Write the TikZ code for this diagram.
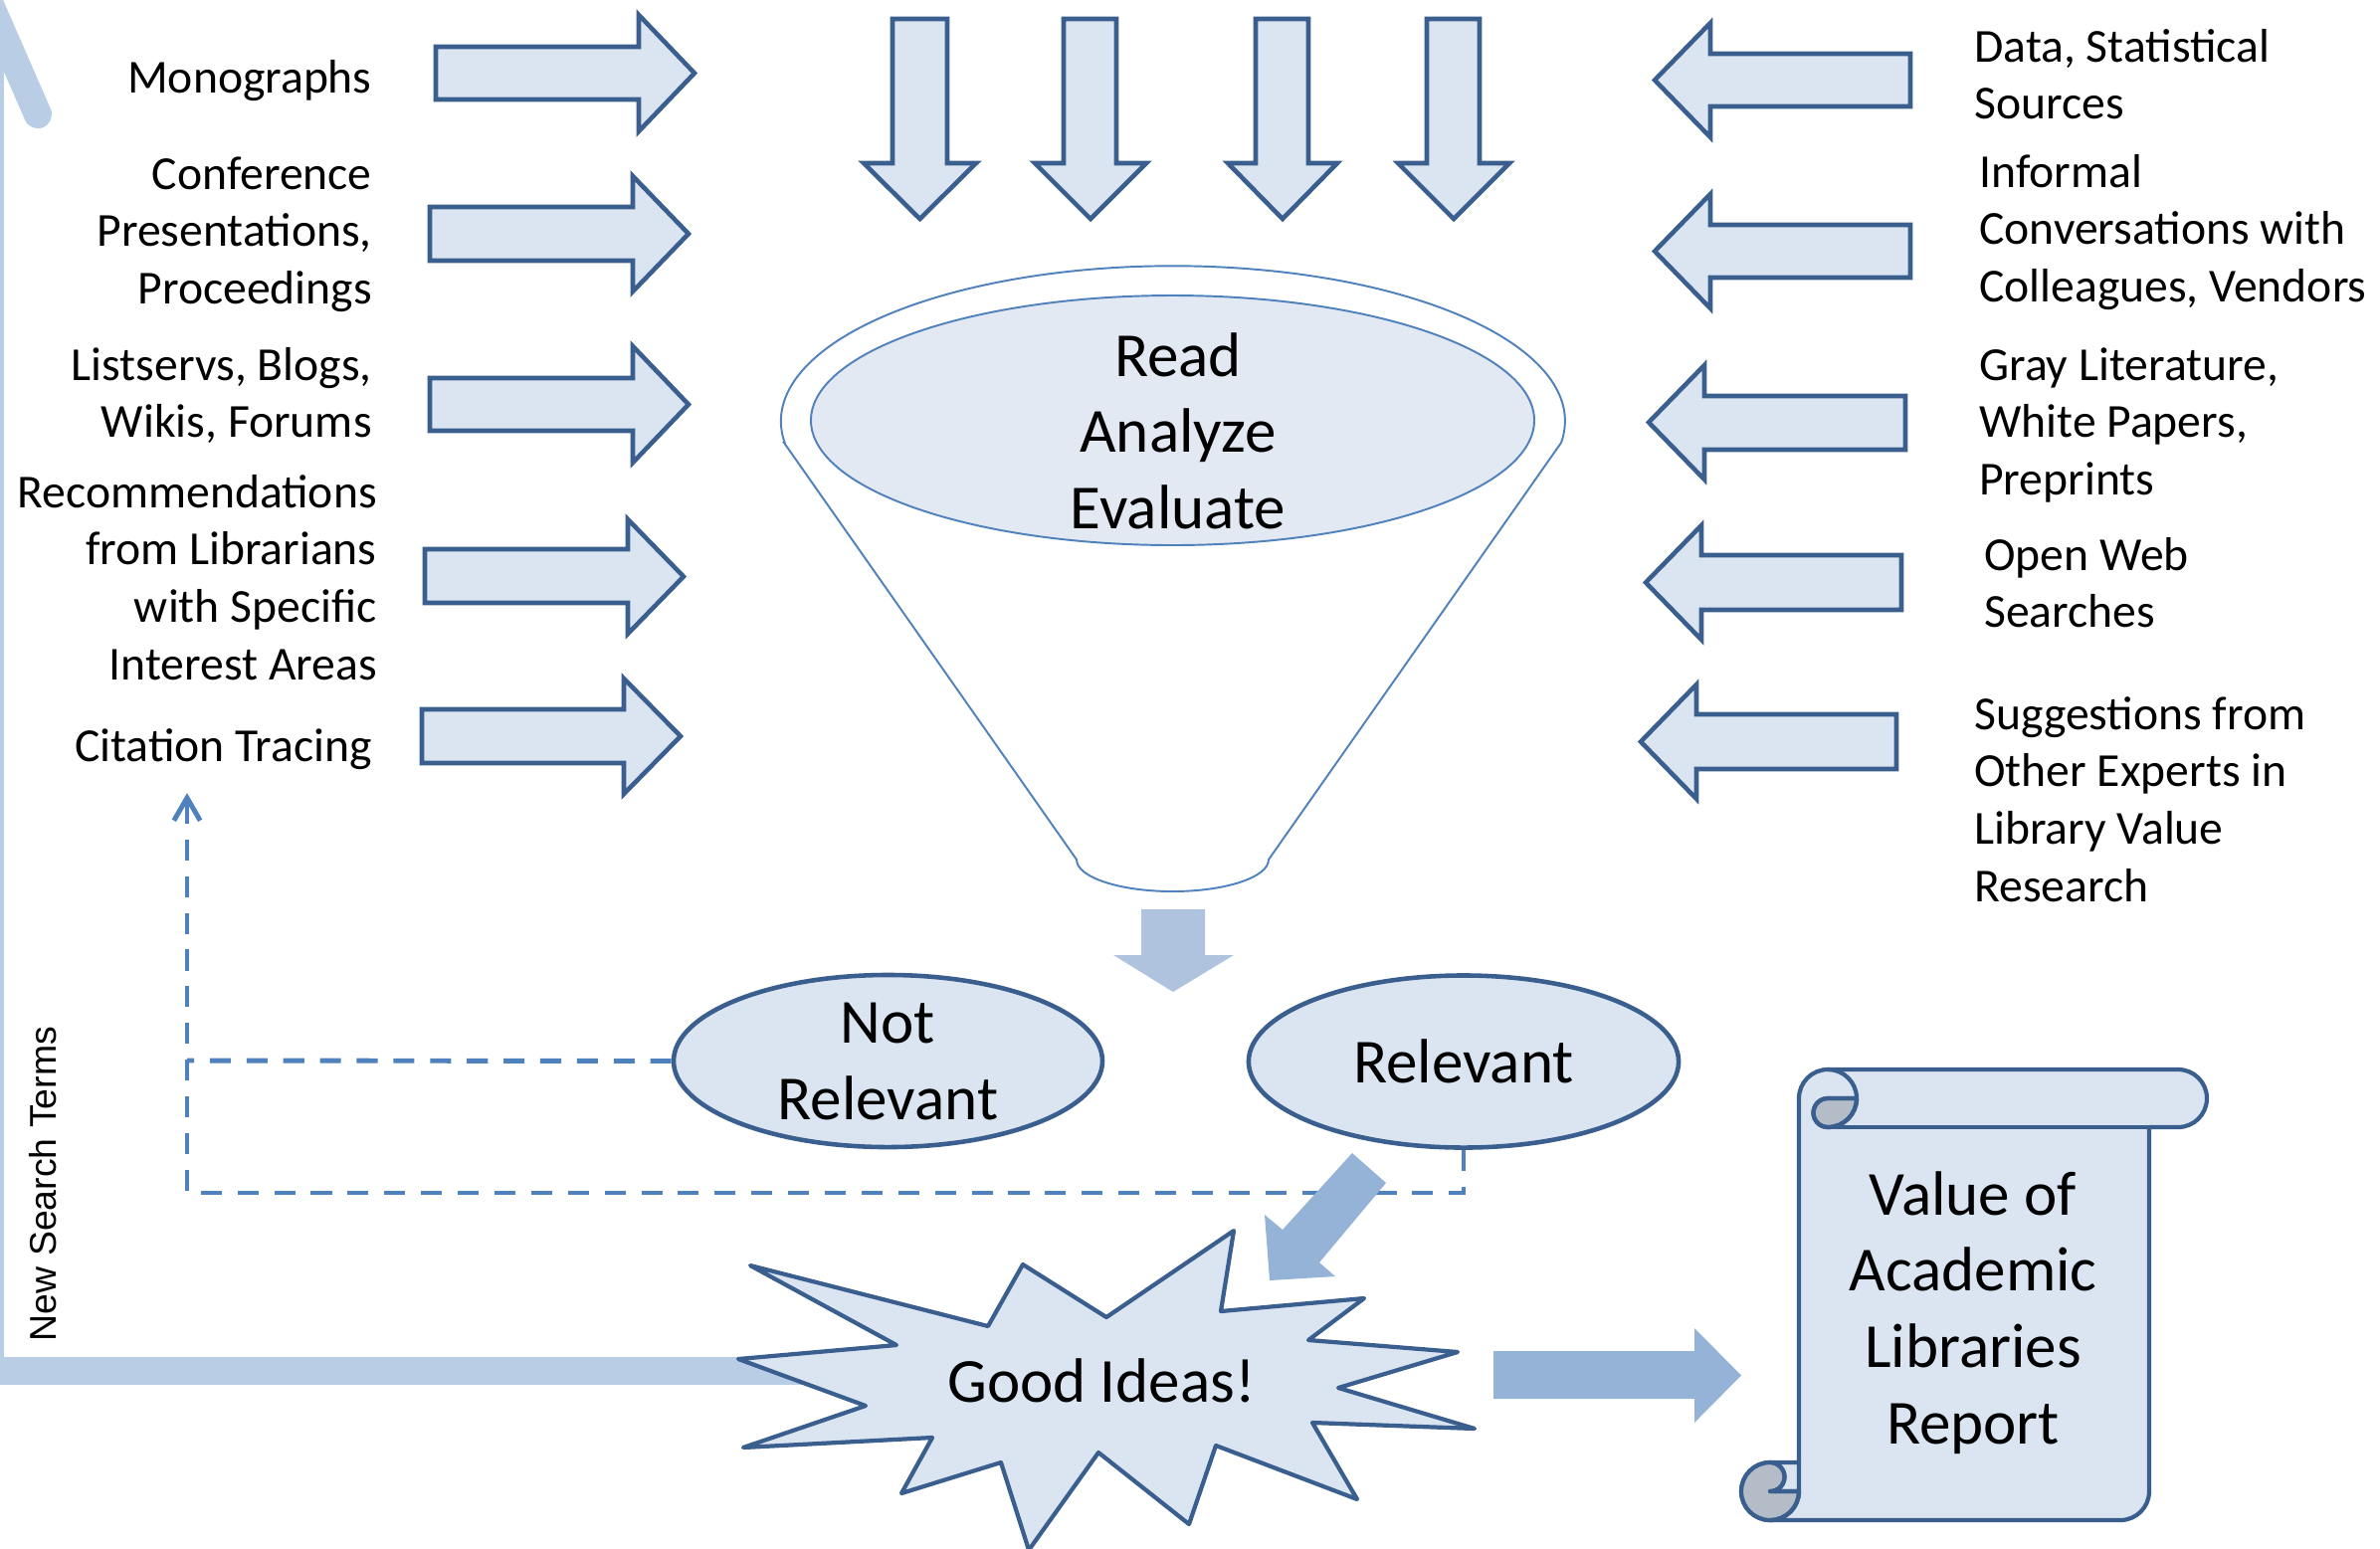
\documentclass[tikz,border=0pt]{standalone}
\usepackage{fontspec}
\setmainfont{Carlito}
\newfontfamily\nstfont{Liberation Sans}
\usetikzlibrary{arrows.meta,shapes.geometric}
\definecolor{blkfill}{HTML}{DBE5F1}
\definecolor{blkline}{HTML}{3A5F8E}
\definecolor{acc}{HTML}{4F81BD}
\definecolor{funfill}{HTML}{E3E9F3}
\definecolor{loopc}{HTML}{B9CDE5}
\definecolor{midarrow}{HTML}{B0C3DE}
\definecolor{strongarrow}{HTML}{95B3D7}
\definecolor{curlc}{HTML}{B3BCC7}
\newcommand{\txR}[1]{\begin{tabular}[t]{@{}r@{}}#1\end{tabular}}
\newcommand{\txL}[1]{\begin{tabular}[t]{@{}l@{}}#1\end{tabular}}
\newcommand{\txC}[1]{\begin{tabular}[t]{@{}c@{}}#1\end{tabular}}
\newcommand{\blockH}[7]{\path[blockarrow] (#1,#4) -- (#2,#4) -- (#2,#6) -- (#3,{(#6+#7)/2}) -- (#2,#7) -- (#2,#5) -- (#1,#5) -- cycle;}
\newcommand{\blockV}[7]{\path[blockarrow] (#4,#1) -- (#4,#2) -- (#6,#2) -- ({(#6+#7)/2},#3) -- (#7,#2) -- (#5,#2) -- (#5,#1) -- cycle;}
\begin{document}
\begin{tikzpicture}[x=0.02cm,y=-0.02cm,
  blockarrow/.style={draw=blkline, fill=blkfill, line width=2.6pt, line join=miter},
  srctext/.style={font=\fontsize{27.1}{33}\selectfont, inner sep=0pt},
  bigtext/.style={font=\fontsize{35.9}{43.8}\selectfont, inner sep=0pt},
  ovalnode/.style={ellipse, draw=blkline, fill=blkfill, line width=2.6pt, inner sep=0pt, align=center, font=\fontsize{35.9}{43.8}\selectfont},
  dashconn/.style={draw=acc, line width=2.8pt, dash pattern=on 12pt off 9pt},
  funline/.style={draw=acc, line width=1.1pt},
  scrollpart/.style={draw=blkline, line width=2.4pt, line join=round},
  starpart/.style={draw=blkline, fill=blkfill, line width=2.4pt, line join=round}
]
\useasboundingbox (0,0) rectangle (2392,1556);

% ---- new search terms loop
\coordinate (loopstart) at (900,1378);
\coordinate (loopcorner) at (-10,1378);
\coordinate (looptip) at (-10,5);
\coordinate (looparm) at (38,115);
\draw[loopc, line width=16pt] (loopstart) -- (loopcorner) -- (looptip);
\draw[loopc, line width=16pt, line cap=round] (looptip) -- (looparm);
\node[rotate=90, anchor=base, inner sep=0pt, font=\nstfont\fontsize{21.3}{25}\selectfont] (nst) at (56,1190) {New Search Terms};

% ---- left source arrows
\blockH{438}{642}{698}{47}{100}{15}{132}
\blockH{432}{636}{692}{208}{262}{177}{293}
\blockH{432}{636}{692}{380}{433}{348}{465}
\blockH{427}{631}{687}{552}{606}{522}{637}
\blockH{424}{627}{684}{713}{767}{682}{798}
% ---- right source arrows
\blockH{1920}{1719}{1663}{54}{107}{23}{138}
\blockH{1920}{1719}{1663}{226}{279}{195}{310}
\blockH{1915}{1713}{1657}{398}{452}{367}{482}
\blockH{1911}{1710}{1654}{558}{613}{528}{643}
\blockH{1906}{1705}{1649}{718}{773}{688}{803}
% ---- top arrows
\blockV{19}{164}{220}{897}{952}{868}{981}
\blockV{19}{164}{220}{1069}{1122}{1040}{1152}
\blockV{19}{164}{220}{1262}{1315}{1234}{1344}
\blockV{19}{164}{220}{1434}{1487}{1405}{1517}

% ---- left texts
\node[srctext, anchor=base east] (t1) at (374,93) {\txR{Monographs}};
\node[srctext, anchor=base east] (t2) at (374,190) {\txR{Conference\\Presentations,\\Proceedings}};
\node[srctext, anchor=base east] (t3) at (374,382) {\txR{Listservs, Blogs,\\Wikis, Forums}};
\node[srctext, anchor=base east] (t4) at (379,510) {\txR{Recommendations\\from Librarians\\with Specific\\Interest Areas}};
\node[srctext, anchor=base east] (t5) at (374,765) {\txR{Citation Tracing}};
% ---- right texts
\node[srctext, anchor=base west] (r1) at (1984,62) {\txL{Data, Statistical\\Sources}};
\node[srctext, anchor=base west] (r2) at (1989,188) {\txL{Informal\\Conversations with\\Colleagues, Vendors}};
\node[srctext, anchor=base west] (r3) at (1989,382) {\txL{Gray Literature,\\White Papers,\\Preprints}};
\node[srctext, anchor=base west] (r4) at (1994,573) {\txL{Open Web\\Searches}};
\node[srctext, anchor=base west] (r5) at (1984,733) {\txL{Suggestions from\\Other Experts in\\Library Value\\Research}};

% ---- funnel
\draw[funline] (788,445) -- (1082,864) arc[start angle=180, end angle=0, x radius=96.5, y radius=32] -- (1569,445) arc[start angle=8, end angle=-188, x radius=394, y radius=156] -- cycle;
\filldraw[funline, fill=funfill] (1178.5,422.5) ellipse[x radius=363.5, y radius=125.5];
\node[bigtext, anchor=base] (funtext) at (1184,378) {\txC{Read\\Analyze\\Evaluate}};

% ---- arrow below funnel
\fill[midarrow] (1147,914) -- (1211,914) -- (1211,960) -- (1240,960) -- (1179,997) -- (1119,960) -- (1147,960) -- cycle;

% ---- relevance ovals
\node[ovalnode, minimum width=245.3pt, minimum height=98.5pt] (nr) at (892.5,1066.5) {Not\\Relevant};
\node[ovalnode, minimum width=246pt, minimum height=98.5pt] (rel) at (1471,1067) {Relevant};

% ---- dashed feedback
\coordinate (dl) at (188,1066);
\coordinate (db) at (188,1199);
\coordinate (dtop) at (188,797);
\draw[dashconn] (nr.west) -- (dl);
\draw[dashconn, -{Straight Barb[length=13pt,width=15pt]}] (rel.south) -- (rel.south |- db) -- (db) -- (dtop);

% ---- good ideas star
\path[starpart] (754,1272) -- (901,1352) -- (742,1366) -- (870,1413) -- (747,1455) -- (937,1445) -- (906,1501) -- (1006,1470) -- (1034,1558) -- (1104,1460) -- (1195,1532) -- (1222,1453) -- (1364,1507) -- (1319,1430) -- (1482,1436) -- (1345,1395) -- (1465,1359) -- (1315,1347) -- (1371,1305) -- (1227,1318) -- (1240,1237) -- (1112,1324) -- (1028,1271) -- (993,1333) -- cycle;
\node[bigtext, anchor=base] (good) at (1107,1409) {Good Ideas!};

% ---- relevant -> good ideas arrow
\fill[strongarrow] (1359,1159) -- (1393,1189) -- (1326,1269) -- (1342,1283) -- (1276,1287) -- (1271,1221) -- (1289,1236) -- cycle;

% ---- good ideas -> report arrow
\fill[strongarrow] (1501,1358) -- (1703,1358) -- (1703,1335) -- (1750,1382.5) -- (1703,1430) -- (1703,1406) -- (1501,1406) -- cycle;

% ---- scroll
\filldraw[scrollpart, fill=blkfill] (1808,1470) -- (1808,1104) arc[start angle=180, delta angle=90, radius=29] -- (2189,1075) arc[start angle=270, delta angle=180, radius=29] -- (2160,1133) -- (2160,1499) arc[start angle=0, delta angle=90, radius=29] -- (1779,1528) arc[start angle=90, delta angle=180, radius=29] -- cycle;
\filldraw[scrollpart, fill=curlc] (1866,1104) arc[start angle=0, delta angle=90, radius=29] arc[start angle=90, delta angle=180, radius=14.5] -- cycle;
\filldraw[scrollpart, fill=curlc] (1808,1499) arc[start angle=0, delta angle=270, radius=29] arc[start angle=270, delta angle=180, radius=14.5] -- cycle;
\draw[scrollpart] (1837,1075) arc[start angle=270, delta angle=180, radius=29] arc[start angle=90, delta angle=180, radius=14.5] -- (1866,1104);
\draw[scrollpart] (2160,1133) -- (1837,1133);
\draw[scrollpart] (1779,1470) arc[start angle=270, delta angle=180, radius=14.5] -- (1808,1499);
\draw[scrollpart] (1779,1528) arc[start angle=90, delta angle=-90, radius=29] -- (1808,1470);
\node[bigtext, anchor=base] (report) at (1983,1221) {\txC{Value of\\Academic\\Libraries\\Report}};
\end{tikzpicture}
\end{document}
